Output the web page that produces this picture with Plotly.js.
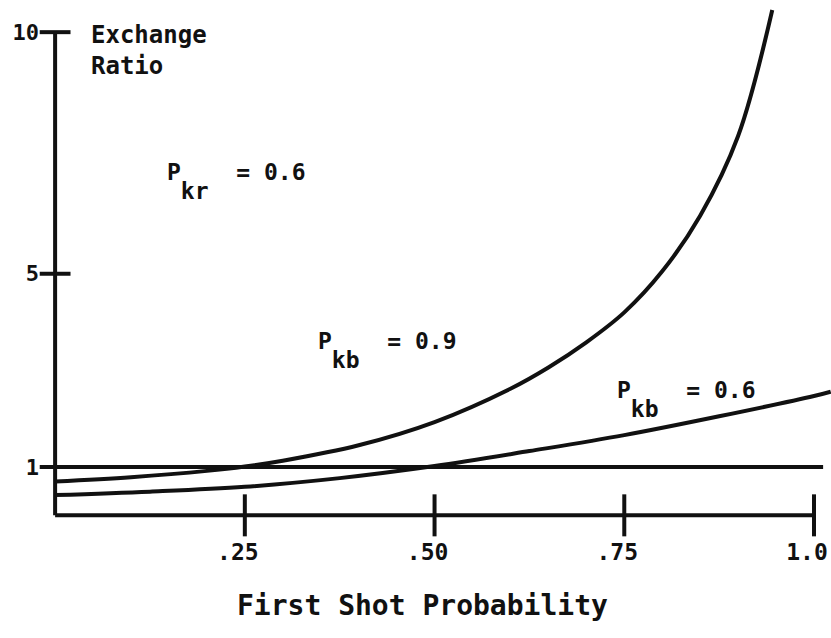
<!DOCTYPE html>
<html>
<head>
<meta charset="utf-8">
<script src="https://cdn.plot.ly/plotly-3.0.1.min.js"></script>
<style>html,body{margin:0;padding:0;background:#fff;}#chart{width:831px;height:638px;}</style>
</head>
<body>
<div id="chart"></div>
<script>
// Pkb = 0.9 curve
const xHigh = [0, 0.1, 0.2, 0.25, 0.3, 0.4, 0.5, 0.6, 0.65, 0.7, 0.75, 0.8, 0.85, 0.9, 0.945];
const yHigh = [0.70, 0.79, 0.92, 1.01, 1.13, 1.45, 1.93, 2.62, 3.06, 3.58, 4.20, 5.05, 6.20, 7.85, 10.46];
// Pkb = 0.6 curve
const xLow = [0, 0.125, 0.25, 0.375, 0.5, 0.625, 0.75, 0.875, 1.0, 1.022];
const yLow = [0.42, 0.49, 0.59, 0.77, 1.02, 1.33, 1.66, 2.05, 2.47, 2.56];
// Exchange ratio = 1 reference line
const xUnity = [0, 1.012];
const yUnity = [1, 1];
// Axis ticks and labels
const xTickVals = [0.25, 0.5, 0.75, 1.0];
const xTickText = ['.25', '.50', '.75', '1.0'];
const yTickVals = [1, 5, 10];
const yTickText = ['1', '5', '10'];

const FONT = 'DejaVu Sans Mono, monospace';
const INK = '#111';

const traces = [
  {x: [0, 1.0], y: [0, 0], mode: 'lines', line: {color: INK, width: 4}, hoverinfo: 'skip'},
  {x: [0, 0], y: [0, 10], mode: 'lines', line: {color: INK, width: 4}, hoverinfo: 'skip'},
  {x: xTickVals, y: xTickVals.map(() => 0), mode: 'markers', cliponaxis: false,
   marker: {symbol: 'line-ns-open', size: 30, color: INK, line: {color: INK, width: 4}}, hoverinfo: 'skip'},
  {x: yTickVals.map(() => 0), y: yTickVals, mode: 'markers', cliponaxis: false,
   marker: {symbol: 'line-ew-open', size: 22, color: INK, line: {color: INK, width: 4}}, hoverinfo: 'skip'},
  {x: xUnity, y: yUnity, mode: 'lines', line: {color: INK, width: 4}, name: 'Ratio 1'},
  {x: xLow, y: yLow, mode: 'lines', line: {color: INK, width: 4, shape: 'spline', smoothing: 1}, name: 'Pkb = 0.6'},
  {x: xHigh, y: yHigh, mode: 'lines', line: {color: INK, width: 4, shape: 'spline', smoothing: 1}, name: 'Pkb = 0.9'}
];

const sub = (s) => '<sub><span style="font-size:23px;baseline-shift:-14px">' + s + '</span></sub>';
const TXT = {family: FONT, size: 23, color: INK, weight: 'bold'};
const layout = {
  width: 831, height: 638,
  margin: {l: 46, r: 0, t: 8, b: 113},
  paper_bgcolor: '#fff', plot_bgcolor: '#fff',
  showlegend: false,
  font: {family: FONT, color: INK, size: 22},
  xaxis: {
    range: [-0.012, 1.0224], showgrid: false, zeroline: false, showline: false,
    tickvals: xTickVals, ticktext: xTickText, ticks: '', ticklabelstandoff: 11,
    ticklabelshift: -7, ticklabeloverflow: 'allow',
    tickfont: {family: FONT, size: 23, color: INK, weight: 'bold'}, fixedrange: true
  },
  yaxis: {
    range: [-0.2, 10.5], showgrid: false, zeroline: false, showline: false,
    tickvals: yTickVals, ticktext: yTickText, ticks: '', ticklabelstandoff: 6,
    tickfont: {family: FONT, size: 22, color: INK, weight: 'bold'}, fixedrange: true
  },
  annotations: [
    {xref: 'x', yref: 'y', x: 0.045, y: 10.28, xanchor: 'left', yanchor: 'top', align: 'left',
     text: 'Exchange<br>Ratio', showarrow: false, font: {family: FONT, size: 24, color: INK, weight: 'bold'}},
    {xref: 'paper', yref: 'paper', x: 0.48, y: -0.155, xanchor: 'center', yanchor: 'middle',
     text: 'First Shot Probability', showarrow: false, font: {family: FONT, size: 28, color: INK, weight: 'bold'}},
    {xref: 'x', yref: 'y', x: 0.145, y: 6.9, xanchor: 'left', yanchor: 'middle',
     text: 'P' + sub('kr') + '&nbsp; = 0.6', showarrow: false, font: TXT},
    {xref: 'x', yref: 'y', x: 0.344, y: 3.41, xanchor: 'left', yanchor: 'middle',
     text: 'P' + sub('kb') + '&nbsp; = 0.9', showarrow: false, font: TXT},
    {xref: 'x', yref: 'y', x: 0.738, y: 2.39, xanchor: 'left', yanchor: 'middle',
     text: 'P' + sub('kb') + '&nbsp; = 0.6', showarrow: false, font: TXT}
  ]
};

Plotly.newPlot('chart', traces, layout, {displayModeBar: false, staticPlot: true});
</script>
</body>
</html>
